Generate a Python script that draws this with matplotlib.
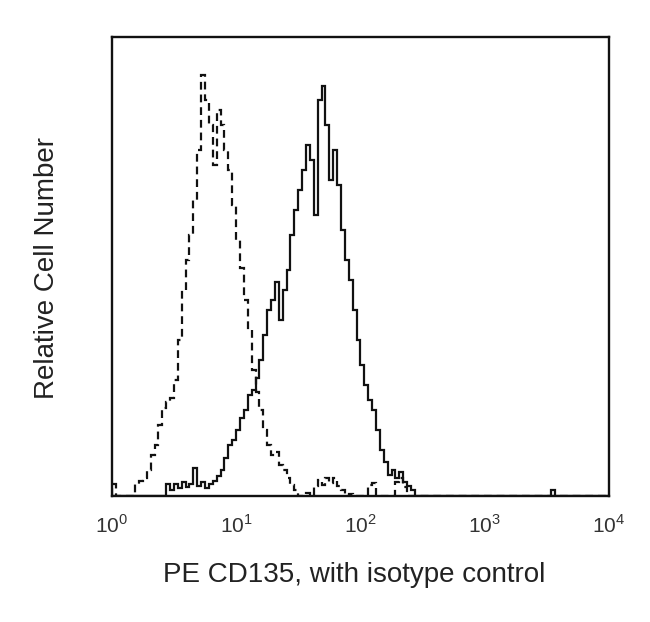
import numpy as np
import matplotlib.pyplot as plt

plt.rcParams['font.family'] = ['Liberation Sans', 'DejaVu Sans']
plt.rcParams['mathtext.fontset'] = 'custom'
plt.rcParams['mathtext.rm'] = 'Liberation Sans'

# ============================================
# Flow histogram: PE CD135 vs isotype control
# ============================================

# channel bins: 32 per decade, 10^0 .. 10^4
bins_per_decade = 32
n_bins = 4 * bins_per_decade

# stained sample (solid), counts from bin 14 on, relative %
stained_start = 14
stained_counts = [2.6, 1.3, 2.6, 1.7, 3.0, 2.0, 2.6, 6.1, 2.2, 3.0,
                  1.7, 2.6, 3.3, 4.4, 5.7, 8.3, 11.1, 12.2, 14.4, 17.0,
                  18.7, 22.0, 23.1, 25.7, 29.6, 35.1, 40.5, 42.7, 46.6, 38.3,
                  44.9, 49.2, 56.9, 62.3, 66.7, 71.0, 76.5, 73.2, 61.2, 86.3,
                  89.3, 80.8, 68.8, 75.4, 67.8, 58.0, 51.4, 47.1, 40.5, 34.0,
                  28.5, 24.2, 20.9, 18.7, 14.4, 10.0, 7.4, 4.6, 5.7, 3.9,
                  5.2, 3.0, 2.2, 1.3, 0.0]
stained_extra = {113: 1.2}

# isotype control (dashed), counts from bin 0 on
isotype_start = 0
isotype_counts = [2.6, 0.0, 0.0, 0.0, 0.0, 0.0, 2.6, 3.3, 3.9, 5.7,
                  8.9, 11.1, 15.5, 19.2, 20.5, 21.4, 25.3, 34.0, 44.9, 51.4,
                  56.9, 64.5, 75.4, 91.7, 86.3, 80.8, 72.1, 84.1, 80.8, 75.4,
                  71.0, 63.4, 55.8, 49.7, 42.7, 36.2, 27.5, 22.7, 18.7, 14.4,
                  11.1, 8.9, 9.6, 6.8, 5.7, 3.9, 2.4, 1.3, 0.0, 0.0,
                  0.7, 0.0, 2.2, 3.5, 2.4, 3.9, 2.8, 3.9, 2.2, 1.3,
                  0.0, 0.4, 0.0, 0.0, 0.0, 0.0, 2.4, 2.8, 0.0, 0.0,
                  0.0, 0.0, 0.0, 3.0, 4.0, 2.0, 0.0]

tick_vals = [1, 10, 100, 1000, 10000]
tick_labels = [r'$10^{0}$', r'$10^{1}$', r'$10^{2}$', r'$10^{3}$', r'$10^{4}$']


def full_hist(start, counts, extra=None):
    h = np.zeros(n_bins)
    h[start:start + len(counts)] = counts
    if extra:
        for k, v in extra.items():
            h[k] = v
    return h


edges = 10 ** (np.arange(n_bins + 1) / bins_per_decade)
stained = full_hist(stained_start, stained_counts, stained_extra)
isotype = full_hist(isotype_start, isotype_counts)

fig = plt.figure(figsize=(6.5, 6.22), dpi=100)
ax = fig.add_axes([0.172, 0.2026, 0.765, 0.738])

ax.stairs(isotype, edges, color='#111111', linewidth=1.6, linestyle=(0, (3.5, 2.2)))
ax.stairs(stained, edges, color='#111111', linewidth=1.6)

ax.set_xscale('log')
ax.set_xlim(1, 10000)
ax.set_ylim(0, 100)
ax.set_xticks(tick_vals)
ax.set_xticklabels(tick_labels)
ax.minorticks_off()
ax.set_yticks([])
ax.tick_params(axis='x', length=0, pad=13, labelsize=15, colors='#333333')

for s in ax.spines.values():
    s.set_linewidth(1.7)
    s.set_color('#111111')

fig.text(354 / 650, 1 - 575 / 622, 'PE CD135, with isotype control',
         fontsize=20, color='#222222', ha='center', va='center')
fig.text(47 / 650, 1 - 268 / 622, 'Relative Cell Number', rotation=90,
         fontsize=20, color='#222222', ha='center', va='center')

plt.savefig('out.png', dpi=100)
